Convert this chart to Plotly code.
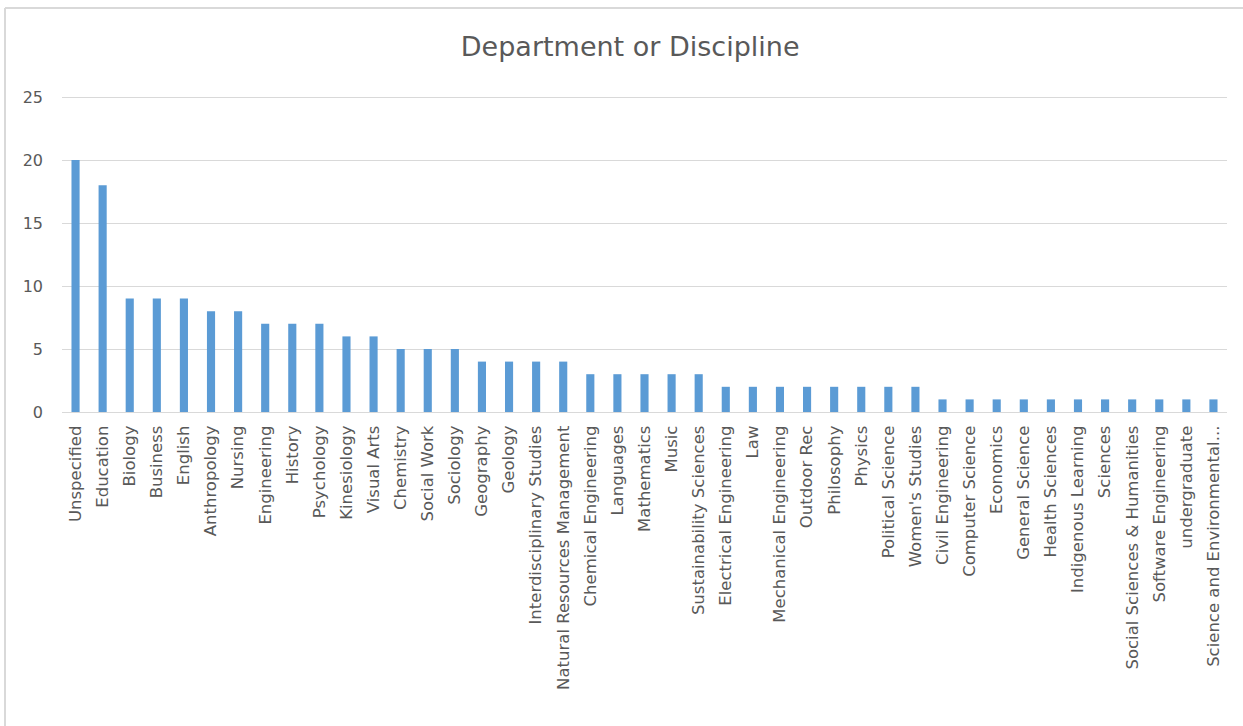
import plotly.graph_objects as go

categories = [
    "Unspecified", "Education", "Biology", "Business", "English", "Anthropology",
    "Nursing", "Engineering", "History", "Psychology", "Kinesiology", "Visual Arts",
    "Chemistry", "Social Work", "Sociology", "Geography", "Geology",
    "Interdisciplinary Studies", "Natural Resources Management", "Chemical Engineering",
    "Languages", "Mathematics", "Music", "Sustainability Sciences",
    "Electrical Engineering", "Law", "Mechanical Engineering", "Outdoor Rec",
    "Philosophy", "Physics", "Political Science", "Women's Studies",
    "Civil Engineering", "Computer Science", "Economics", "General Science",
    "Health Sciences", "Indigenous Learning", "Sciences",
    "Social Sciences & Humanities", "Software Engineering", "undergraduate",
    "Science and Environmental...",
]
values = [
    20, 18, 9, 9, 9, 8, 8, 7, 7, 7, 6, 6, 5, 5, 5, 4, 4, 4, 4, 3, 3, 3, 3, 3,
    2, 2, 2, 2, 2, 2, 2, 2, 1, 1, 1, 1, 1, 1, 1, 1, 1, 1, 1,
]
y_ticks = [0, 5, 10, 15, 20, 25]

TXT = "#595959"
FONT = "DejaVu Sans"

fig = go.Figure(go.Bar(x=categories, y=values, marker_color="#5B9BD5",
                       marker_line_width=0))

W, H = 1243, 726
L, R, T, B = 62, 16, 95, 314
pw, ph = W - L - R, H - T - B
ymax = 25 * ph / (ph - 2)

def px_x(x):
    return (x - L) / pw

def px_y(y):
    return (H - B - y) / ph

fig.update_layout(
    width=W, height=H,
    margin=dict(l=L, r=R, t=T, b=B, pad=0),
    paper_bgcolor="white", plot_bgcolor="white",
    bargap=0.7,
    showlegend=False,
    title=dict(text="Department or Discipline", x=0.507, xanchor="center",
               y=1 - 47 / H, yanchor="middle", yref="container",
               font=dict(family=FONT, size=27, color=TXT)),
    font=dict(family=FONT, color=TXT),
    xaxis=dict(tickangle=-90, tickfont=dict(family=FONT, size=16.5, color=TXT),
               showgrid=False, showline=True, linecolor="#D9D9D9", linewidth=1,
               ticks="", ticklabelstandoff=6, automargin=False),
    yaxis=dict(range=[0, ymax], tickvals=y_ticks, showgrid=True,
               gridcolor="#D9D9D9", gridwidth=1, zeroline=False,
               showline=False, ticks="", ticklabelstandoff=18,
               tickfont=dict(family=FONT, size=16, color=TXT), automargin=False),
    shapes=[
        dict(type="line", xref="paper", yref="paper",
             x0=px_x(5), x1=px_x(5), y0=px_y(8), y1=px_y(H + 5),
             line=dict(color="#D9D9D9", width=2)),
        dict(type="line", xref="paper", yref="paper",
             x0=px_x(5), x1=px_x(W + 5), y0=px_y(8), y1=px_y(8),
             line=dict(color="#D9D9D9", width=2)),
    ],
)

fig.write_html("out.html")
